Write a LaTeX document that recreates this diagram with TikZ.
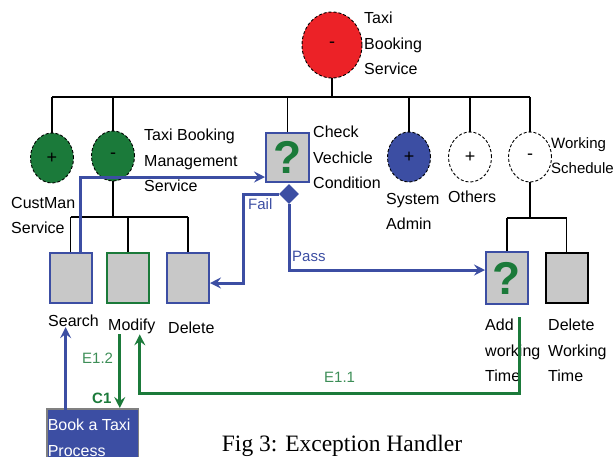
\documentclass[tikz,border=0pt]{standalone}
\usepackage{fontspec}
\setmainfont{Liberation Serif}
\setsansfont{Liberation Sans}
\usepackage{xcolor}
\usetikzlibrary{positioning,arrows.meta,shapes.geometric}

\definecolor{fmgreen}{HTML}{1B7A3A}
\definecolor{fmblue}{HTML}{3C4EA3}
\definecolor{fmred}{HTML}{EC2227}
\definecolor{fmgray}{HTML}{C8C8C8}

\begin{document}
\begin{tikzpicture}[x=1pt, y=-1pt,
    svc/.style   ={ellipse, draw=black, densely dashed, line width=0.9pt,
                   minimum width=43pt, minimum height=50pt, inner sep=0pt,
                   font=\sffamily\fontsize{18}{18}\selectfont},
    act/.style   ={draw, line width=2pt, fill=fmgray, minimum width=42pt,
                   minimum height=50pt, inner sep=0pt},
    qmark/.style ={text=fmgreen, font=\sffamily\bfseries\fontsize{46}{46}\selectfont},
    lab/.style   ={anchor=north west, inner sep=0pt, align=left,
                   font=\sffamily\fontsize{16}{25.5}\selectfont},
    flowlab/.style={anchor=north west, inner sep=0pt,
                   font=\sffamily\fontsize{15}{15}\selectfont},
    tree/.style  ={line width=1.5pt},
    flow/.style  ={line width=3pt, fmblue,
                   -{Stealth[length=11pt, width=11pt, inset=4pt]}},
    eflow/.style ={flow, fmgreen}
  ]
    \useasboundingbox (0,0) rectangle (615,456);

    % --- feature tree ---
    \node[svc, fill=fmred, minimum width=60pt, minimum height=66pt] (root) at (332,45) {-};
    \node[svc, fill=fmgreen] (cust) at (52,158)  {+};
    \node[svc, fill=fmgreen] (tbms) at (113,156) {-};
    \node[act, draw=fmblue, qmark, minimum width=43pt, minimum height=49pt] (chk) at (287.5,157.5) {?};
    \node[svc, fill=fmblue]  (sys)  at (409,157) {+};
    \node[svc, fill=white]   (oth)  at (470,157) {+};
    \node[svc, fill=white]   (ws)   at (530,157) {-};
    \node[diamond, fill=fmblue, minimum size=20pt, inner sep=0pt] (dia) at (289,194) {};

    \node[act, draw=fmblue]  (srch) at (70.5,277.5) {};
    \node[act, draw=fmgreen] (mod)  at (128,277.5)  {};
    \node[act, draw=fmblue]  (del)  at (188,277.5)  {};
    \node[act, draw=fmblue, qmark, minimum height=52pt] (addw) at (507,278) {?};
    \node[act, draw=black]   (delw) at (566.5,277.5) {};

    \node[draw=gray, line width=1.5pt, fill=fmblue, text=white, anchor=north west,
          minimum width=88pt, minimum height=58pt, inner xsep=1pt, inner ysep=2pt,
          align=left, font=\sffamily\fontsize{16}{25.5}\selectfont]
          (book) at (46,408) {Book a Taxi\\Process\hspace*{32pt}};

    % --- labels ---
    \node[lab] (rootl) at (364,12)  {Taxi\\Booking\\Service};
    \node[lab] (tbmsl) at (144,129) {Taxi Booking\\Management\\Service};
    \node[lab] (custl) at (11,197)  {CustMan\\Service};
    \node[lab] (chkl)  at (313,126) {Check\\Vechicle\\Condition};
    \node[lab] (sysl)  at (386,193) {System\\Admin};
    \node[lab] (othl)  at (448,191) {Others};
    \node[lab, font=\sffamily\fontsize{15}{25.5}\selectfont] (wsl) at (551,137) {Working\\Schedule};
    \node[lab] (srcht) at (48,315)  {Search};
    \node[lab] (modt)  at (108,319) {Modify};
    \node[lab] (delt)  at (168,322) {Delete};
    \node[lab] (addt)  at (485,319) {Add\\working\\Time};
    \node[lab] (delwt) at (548,319) {Delete\\Working\\Time};

    % --- tree lines ---
    \coordinate (bus)  at (0,97);
    \coordinate (sbus) at (0,217);
    \coordinate (wbus) at (0,218);
    \draw[tree] (root.south) -- (root.south |- bus);
    \draw[tree] (cust.north |- bus) -- (ws.north |- bus);
    \draw[line width=2.6pt] (tbms.north |- bus) -- ++(109,0);
    \foreach \c in {cust,tbms,chk,sys,oth,ws}
      \draw[tree] (\c.north) -- (\c.north |- bus);
    \draw[tree] (tbms.south) -- (tbms.south |- sbus);
    \draw[tree] (srch.north |- sbus) -- (del.north |- sbus);
    \foreach \c in {srch,mod,del}
      \draw[tree] (\c.north) -- (\c.north |- sbus);
    \draw[tree] (ws.south) -- (ws.south |- wbus);
    \draw[tree] (addw.north |- wbus) -- (delw.north |- wbus);
    \foreach \c in {addw,delw}
      \draw[tree] (\c.north) -- (\c.north |- wbus);

    % --- exception flows ---
    \draw[flow] ([xshift=9.5pt]srch.north) |- ([yshift=-19.5pt]chk.west);
    \draw[flow] (dia.west) -- ++(-35,0) |- ([yshift=-5.5pt]del.east);
    \node[flowlab, text=fmblue] (failt) at (248,198) {Fail};
    \draw[flow] (dia.south) |- ([yshift=8pt]addw.west);
    \node[flowlab, text=fmblue] (passt) at (292,251) {Pass};

    \draw[eflow] ([xshift=12pt, yshift=-12pt]addw.south) -- ++(0,76) -| ([xshift=8pt]modt.south);
    \node[flowlab, text=fmgreen!85!white] (e11) at (324,372) {E1.1};
    \draw[eflow] ([xshift=-12pt]modt.south) -- ([xshift=-12pt]modt.south |- book.north);
    \node[flowlab, text=fmgreen!85!white] (e12) at (82,353) {E1.2};
    \node[flowlab, text=fmgreen, font=\sffamily\bfseries\fontsize{15}{15}\selectfont] (c1) at (92,393) {C1};
    \draw[flow] ([xshift=-27pt, yshift=-5pt]book.north) -- ([xshift=-27pt]book.north |- srcht.south);

    % --- caption ---
    \node[anchor=north, inner sep=0pt, font=\rmfamily\fontsize{23.5}{23.5}\selectfont]
      (cap) at (342,435) {Fig 3: Exception Handler};
\end{tikzpicture}
\end{document}
